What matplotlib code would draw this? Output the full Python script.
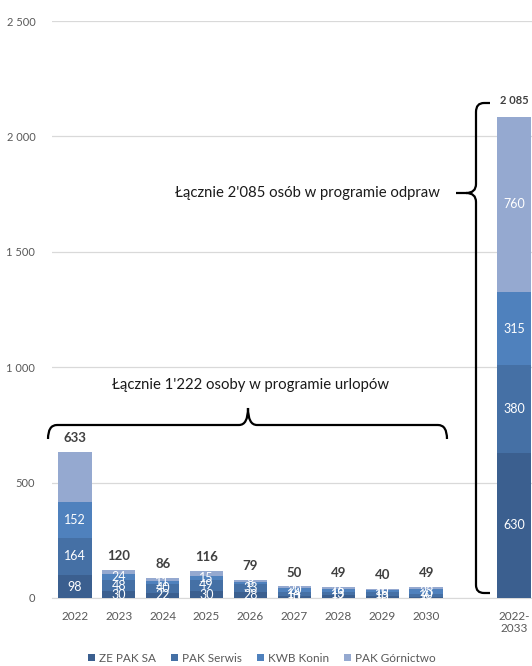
import matplotlib
matplotlib.use("Agg")
import matplotlib.pyplot as plt
import numpy as np
from matplotlib.path import Path
from matplotlib.patches import PathPatch
from matplotlib.transforms import Affine2D
from matplotlib.ticker import FuncFormatter

plt.rcParams['font.family'] = ['Lato', 'DejaVu Sans']

# ---- data ----
categories = ['2022', '2023', '2024', '2025', '2026', '2027', '2028', '2029', '2030', '2022-\n2033']
series_names = ['ZE PAK SA', 'PAK Serwis', 'KWB Konin', 'PAK Górnictwo']
ze_pak = [98, 30, 22, 30, 28, 10, 12, 10, 6, 630]
pak_serwis = [164, 48, 40, 49, 33, 14, 13, 15, 10, 380]
kwb_konin = [152, 24, 11, 15, 8, 20, 16, 10, 23, 315]
pak_gornictwo = [219, 18, 13, 22, 10, 6, 8, 5, 10, 760]
totals = [633, 120, 86, 116, 79, 50, 49, 40, 49, 2085]
positions = [0, 1, 2, 3, 4, 5, 6, 7, 8, 10]
y_ticks = [0, 500, 1000, 1500, 2000, 2500]
text_urlopy = "Łącznie 1'222 osoby w programie urlopów"
text_odprawy = "Łącznie 2'085 osób w programie odpraw"

colors = ['#3B5F8F', '#4570A5', '#4F81BD', '#95A9D0']

W, H = 532, 666
fig = plt.figure(figsize=(W / 100, H / 100), dpi=100)
left_px, right_px, top_px, bottom_px = 52, 532, 21, 598
ax = fig.add_axes([left_px / W, 1 - bottom_px / H, (right_px - left_px) / W, (bottom_px - top_px) / H])

series = [ze_pak, pak_serwis, kwb_konin, pak_gornictwo]
bottoms = np.zeros(len(categories))
for si, (vals, name, col) in enumerate(zip(series, series_names, colors)):
    vals = np.array(vals, dtype=float)
    ax.bar(positions, vals, width=0.76, bottom=bottoms, color=col, label=name, zorder=3)
    for i, (p, v, b) in enumerate(zip(positions, vals, bottoms)):
        if si == 3 and i != len(categories) - 1:
            continue
        ax.text(p, b + v / 2, f"{int(v)}", ha='center', va='center', color='white',
                fontsize=9, zorder=4)
    bottoms += vals

def fmt_thousands(v):
    return f"{int(v):,}".replace(",", " ")

for i, (p, t) in enumerate(zip(positions, totals)):
    last = i == len(totals) - 1
    fs = 8 if last else 9.5
    off = 12 if last else 10
    ax.annotate(fmt_thousands(t), (p, t), xytext=(0, off), textcoords='offset points',
                ha='center', va='center', fontsize=fs, fontweight='bold', color='#404040')

ax.set_ylim(0, 2500)
ax.set_xlim(-0.52, 10.41)
ax.set_yticks(y_ticks)
ax.yaxis.set_major_formatter(FuncFormatter(lambda v, _: fmt_thousands(v)))
ax.set_xticks(positions)
ax.set_xticklabels(categories)
ax.tick_params(axis='both', length=0, labelsize=8.5, labelcolor='#595959')
ax.tick_params(axis='y', labelsize=8, pad=12)
ax.tick_params(axis='x', pad=9)
ax.grid(axis='y', color='#D9D9D9', linewidth=0.9, zorder=0)
for s in ['top', 'right', 'left']:
    ax.spines[s].set_visible(False)
ax.spines['bottom'].set_color('#D9D9D9')
ax.set_axisbelow(True)

fig.legend(loc='center', bbox_to_anchor=(262 / W, 1 - 658 / H), ncol=4, frameon=False,
           fontsize=8.5, handlelength=0.6, handleheight=0.6, handletextpad=0.3,
           columnspacing=1.3, labelcolor='#595959')

# pixel transform for annotations
pix = Affine2D().scale(1 / W, -1 / H).translate(0, 1) + fig.transFigure

# horizontal brace (urlopy)
verts = [(48, 439), (48, 425), (57, 425), (239, 425), (248, 425), (248, 408),
         (248, 425), (257, 425), (438, 425), (447, 425), (447, 439)]
codes = [Path.MOVETO, Path.CURVE3, Path.CURVE3, Path.LINETO, Path.CURVE3, Path.CURVE3,
         Path.CURVE3, Path.CURVE3, Path.LINETO, Path.CURVE3, Path.CURVE3]
fig.add_artist(PathPatch(Path(verts, codes), transform=pix, fill=False, lw=1.6, edgecolor='black'))

# vertical brace (odprawy)
verts2 = [(490, 103), (484, 103), (476, 103), (476, 112), (476, 184), (476, 193), (466, 193),
          (456, 193),
          (466, 193), (476, 193), (476, 202), (476, 585), (476, 593), (484, 593), (490, 593)]
codes2 = [Path.MOVETO, Path.LINETO, Path.CURVE3, Path.CURVE3, Path.LINETO, Path.CURVE3, Path.CURVE3,
          Path.LINETO,
          Path.MOVETO, Path.CURVE3, Path.CURVE3, Path.LINETO, Path.CURVE3, Path.CURVE3, Path.LINETO]
fig.add_artist(PathPatch(Path(verts2, codes2), transform=pix, fill=False, lw=1.6, edgecolor='black'))

fig.text(250 / W, 1 - 385 / H, text_urlopy, ha='center', va='center', fontsize=10.7, color='#1a1a1a')
fig.text(440 / W, 1 - 193 / H, text_odprawy, ha='right', va='center', fontsize=10.7, color='#1a1a1a')

fig.savefig('out.png', dpi=100)
